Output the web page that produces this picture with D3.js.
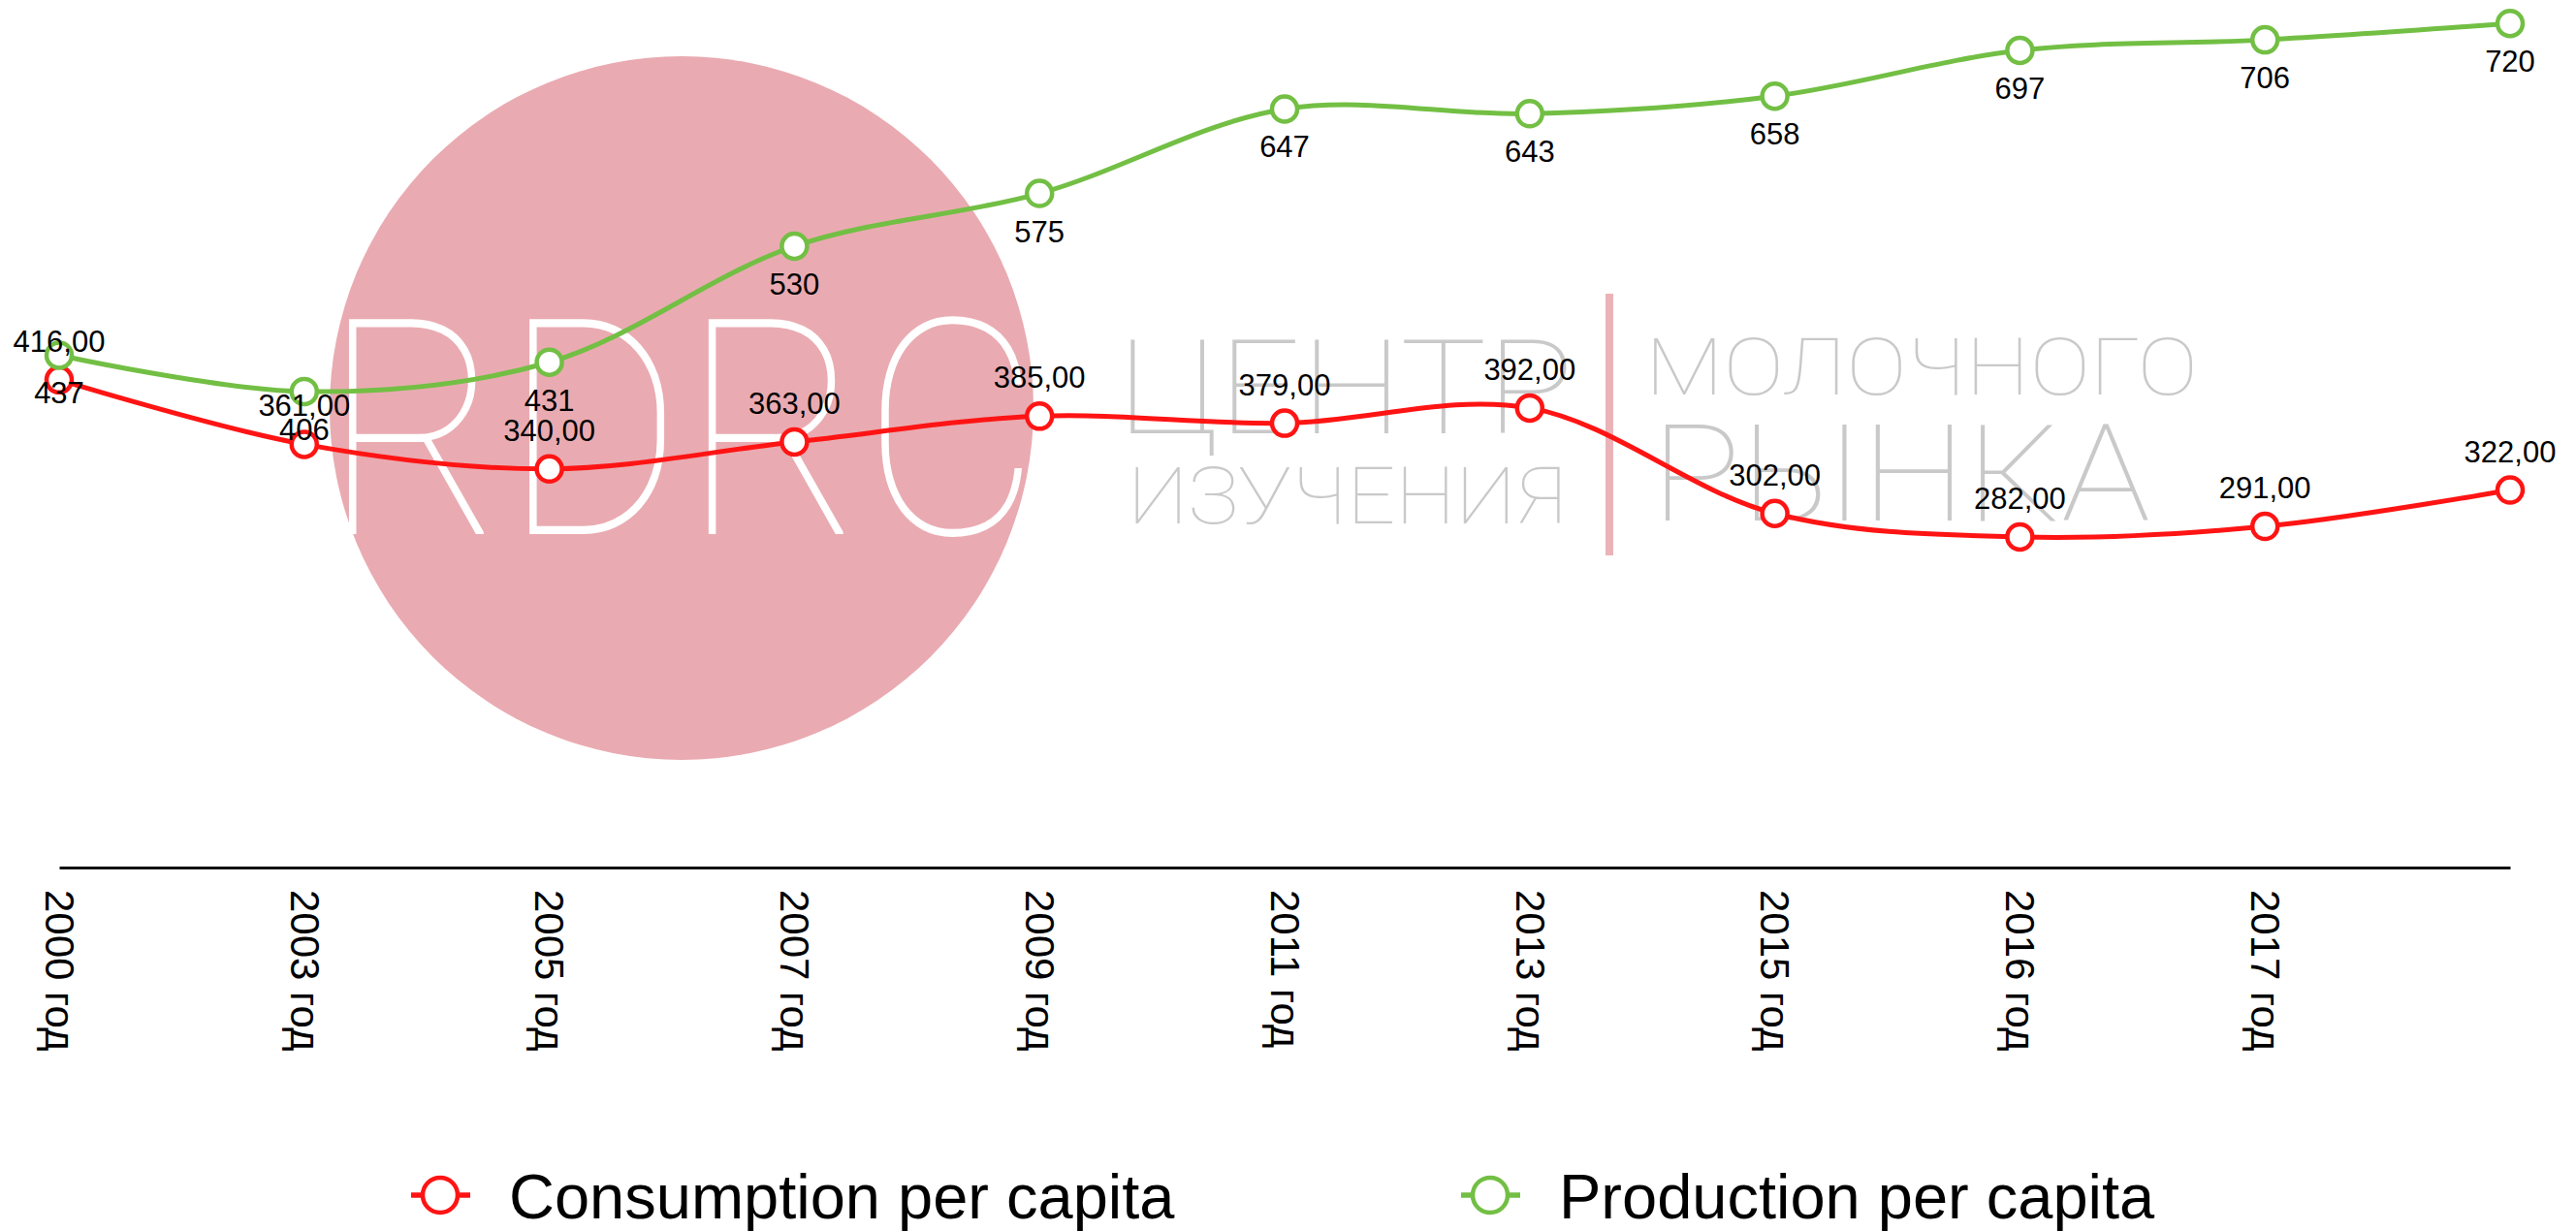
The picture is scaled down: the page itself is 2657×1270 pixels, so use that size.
<!DOCTYPE html>
<html>
<head>
<meta charset="utf-8">
<script src="https://cdn.jsdelivr.net/npm/d3@7"></script>
<style>
  body { margin: 0; background: #fff; }
  svg { display: block; }
  text { font-family: "Liberation Sans", Arial, Helvetica, sans-serif; }
</style>
</head>
<body>
<div id="chart"></div>
<script>
const years = ['2000 год', '2003 год', '2005 год', '2007 год', '2009 год', '2011 год', '2013 год', '2015 год', '2016 год', '2017 год', ''];
const consumption = [416, 361, 340, 363, 385, 379, 392, 302, 282, 291, 322];
const production = [437, 406, 431, 530, 575, 647, 643, 658, 697, 706, 720];
const seriesNames = ['Consumption per capita', 'Production per capita'];
const seriesColors = ['#ff1414', '#72bf44'];
const watermarkWords = ['ЦЕНТР', 'ИЗУЧЕНИЯ', 'МОЛОЧНОГО', 'РЫНКА'];

const w = 2657, h = 1270;

const svg = d3.select('#chart')
    .append('svg')
    .attr('width', w)
    .attr('height', h)

const x = d3.scalePoint()
    .domain(years)
    .range([61, 2589])

const y = d3.scaleLinear()
    .domain([0, 740])
    .range([895, 0])

// watermark (logo in the background)
const wm = svg.append('g').attr('class', 'watermark')
wm.append('circle')
    .attr('cx', 703).attr('cy', 421).attr('r', 363)
    .attr('fill', '#e9abb1')
wm.append('text')
    .attr('x', 333).attr('y', 551)
    .attr('textLength', 740).attr('lengthAdjust', 'spacingAndGlyphs')
    .style('font-family', 'Roboto, Inter, Lato, sans-serif')
    .style('font-weight', 100)
    .style('font-size', '312px')
    .attr('fill', '#fff')
    .text('RDRC')

const wmText = [
    {x: 1153, y: 447, size: 135, len: 470},
    {x: 1163, y: 540, size: 81, len: 452},
    {x: 1697, y: 407, size: 82, len: 570},
    {x: 1703, y: 537, size: 140, len: 515}
]
wm.selectAll('text.word')
    .data(watermarkWords)
    .enter()
    .append('text')
    .attr('class', 'word')
    .attr('x', (d, i) => wmText[i].x)
    .attr('y', (d, i) => wmText[i].y)
    .attr('textLength', (d, i) => wmText[i].len)
    .attr('lengthAdjust', 'spacingAndGlyphs')
    .style('font-family', 'Roboto, Inter, Lato, sans-serif')
    .style('font-weight', 100)
    .style('font-size', (d, i) => wmText[i].size + 'px')
    .attr('fill', '#c9c9c9')
    .text(d => d)
wm.append('line')
    .attr('x1', 1660).attr('x2', 1660)
    .attr('y1', 303).attr('y2', 573)
    .attr('stroke', '#ebb3b7')
    .attr('stroke-width', 8)

// x axis
const xAxis = d3.axisBottom(x).tickSize(0).tickSizeOuter(0)
const gx = svg.append('g')
    .attr('transform', 'translate(0,' + y(0) + ')')
    .call(xAxis)
gx.select('.domain').attr('stroke', '#111').attr('stroke-width', 3)
gx.selectAll('text')
    .attr('transform', 'rotate(90)')
    .attr('x', 23)
    .attr('y', 0)
    .attr('dy', '0.35em')
    .attr('text-anchor', 'start')
    .attr('font-family', '"Liberation Sans", Arial, Helvetica, sans-serif')
    .attr('font-size', 42)
    .attr('fill', '#000')

// lines
const line = d3.line()
    .x((d, i) => x(years[i]))
    .y(d => y(d))
    .curve(d3.curveCatmullRom.alpha(0.5))

const series = [consumption, production]
const fmtCons = v => d3.format('.2f')(v).replace('.', ',')
const fmtProd = d3.format('d')

series.forEach((data, s) => {
    svg.append('path')
        .datum(data)
        .attr('d', line)
        .attr('fill', 'none')
        .attr('stroke', seriesColors[s])
        .attr('stroke-width', 5)
})

series.forEach((data, s) => {
    const g = svg.append('g')
    g.selectAll('circle')
        .data(data)
        .enter()
        .append('circle')
        .attr('cx', (d, i) => x(years[i]))
        .attr('cy', d => y(d))
        .attr('r', 13)
        .attr('fill', '#fff')
        .attr('stroke', seriesColors[s])
        .attr('stroke-width', 4.5)
})

series.forEach((data, s) => {
    svg.append('g').selectAll('text')
        .data(data)
        .enter()
        .append('text')
        .attr('x', (d, i) => x(years[i]))
        .attr('y', d => s === 0 ? y(d) - 29 : y(d) + 50)
        .attr('text-anchor', 'middle')
        .attr('font-size', 31)
        .attr('fill', '#000')
        .text(d => s === 0 ? fmtCons(d) : fmtProd(d))
})

// legend
const legend = svg.append('g')
    .attr('transform', 'translate(424,1233)')
const item = legend.selectAll('g')
    .data(seriesNames)
    .enter()
    .append('g')
    .attr('transform', (d, i) => 'translate(' + i * 1083 + ',0)')
item.append('line')
    .attr('x1', 0).attr('x2', 61)
    .attr('stroke', (d, i) => seriesColors[i])
    .attr('stroke-width', 5.5)
item.append('circle')
    .attr('cx', 30).attr('r', 18)
    .attr('fill', '#fff')
    .attr('stroke', (d, i) => seriesColors[i])
    .attr('stroke-width', 4.5)
item.append('text')
    .attr('x', 101)
    .attr('y', 24)
    .attr('font-size', 65)
    .attr('fill', '#000')
    .text(d => d)
</script>
</body>
</html>
